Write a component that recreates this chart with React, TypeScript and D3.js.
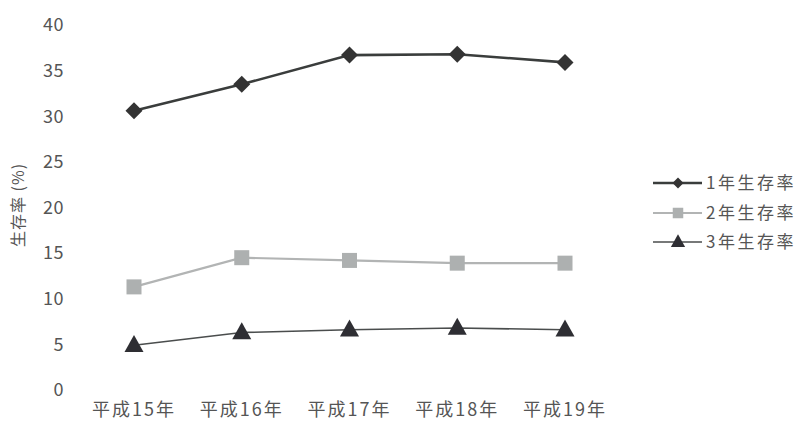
import React from "react";
import * as d3 from "d3";

const categories = ["平成15年", "平成16年", "平成17年", "平成18年", "平成19年"];
const seriesNames = ["1年生存率", "2年生存率", "3年生存率"];
const oneYear = [30.6, 33.5, 36.7, 36.8, 35.9];
const twoYear = [11.3, 14.5, 14.2, 13.9, 13.9];
const threeYear = [4.9, 6.3, 6.6, 6.8, 6.6];
const yTicks = [0, 5, 10, 15, 20, 25, 30, 35, 40];

const W = 805;
const H = 430;
const FONT = "'Noto Sans CJK JP', 'Noto Sans', sans-serif";
const TEXT = "#555";

type Style = {
  name: string;
  values: number[];
  line: string;
  lineWidth: number;
  marker: "diamond" | "square" | "triangle";
  fill: string;
};

const series: Style[] = [
  { name: seriesNames[0], values: oneYear, line: "#3a3d3c", lineWidth: 2.6, marker: "diamond", fill: "#333" },
  { name: seriesNames[1], values: twoYear, line: "#b2b4b4", lineWidth: 2.2, marker: "square", fill: "#adb0b0" },
  { name: seriesNames[2], values: threeYear, line: "#4a4d4d", lineWidth: 1.6, marker: "triangle", fill: "#2e2e33" },
];

function Marker({ kind, x, y, fill, scale = 1 }: { kind: Style["marker"]; x: number; y: number; fill: string; scale?: number }) {
  if (kind === "diamond") {
    const r = 8.5 * scale;
    return <path d={`M${x},${y - r}L${x + r},${y}L${x},${y + r}L${x - r},${y}Z`} fill={fill} />;
  }
  if (kind === "square") {
    const s = 15 * scale;
    return <rect x={x - s / 2} y={y - s / 2} width={s} height={s} fill={fill} />;
  }
  const w = 19 * scale;
  const h = 17 * scale;
  return <path d={`M${x},${y - h * 0.6}L${x + w / 2},${y + h * 0.4}L${x - w / 2},${y + h * 0.4}Z`} fill={fill} />;
}

export default function App() {
  const x = d3.scalePoint<string>().domain(categories).range([134, 565]);
  const y = d3.scaleLinear().domain([0, 40]).range([390, 25]);

  const line = d3
    .line<number>()
    .x((_, i) => x(categories[i]) as number)
    .y((d) => y(d));

  const legendY = [183, 213, 242];
  const legendScale = [0.65, 0.7, 0.75];

  return (
    <svg
      width={W}
      height={H}
      style={{ position: "absolute", left: 0, top: 0, background: "#fff" }}
      fontFamily={FONT}
    >
      <rect width={W} height={H} fill="#fff" />
      {yTicks.map((t) => (
        <text key={t} x={64} y={y(t)} dy="0.35em" textAnchor="end" fontSize={18} fill={TEXT} letterSpacing={0.5}>
          {t}
        </text>
      ))}
      <text
        transform={`translate(18,${205}) rotate(-90)`}
        textAnchor="middle"
        dy="0.35em"
        fontSize={16}
        fill={TEXT}
        letterSpacing={1}
      >
        生存率 (%)
      </text>
      {categories.map((c) => (
        <text key={c} x={x(c)} y={416} textAnchor="middle" fontSize={18} fill={TEXT} letterSpacing={2}>
          {c}
        </text>
      ))}
      {series.map((s) => (
        <g key={s.name}>
          <path d={line(s.values) ?? ""} fill="none" stroke={s.line} strokeWidth={s.lineWidth} />
          {s.values.map((v, i) => (
            <Marker key={i} kind={s.marker} x={x(categories[i]) as number} y={y(v)} fill={s.fill} />
          ))}
        </g>
      ))}
      {series.map((s, i) => (
        <g key={`lg-${s.name}`}>
          <line x1={653} x2={702} y1={legendY[i]} y2={legendY[i]} stroke={s.line} strokeWidth={s.lineWidth} />
          <Marker kind={s.marker} x={678} y={legendY[i]} fill={s.fill} scale={legendScale[i]} />
          <text x={706} y={legendY[i]} dy="0.35em" fontSize={17} fill={TEXT} letterSpacing={2.5}>
            {s.name}
          </text>
        </g>
      ))}
    </svg>
  );
}
